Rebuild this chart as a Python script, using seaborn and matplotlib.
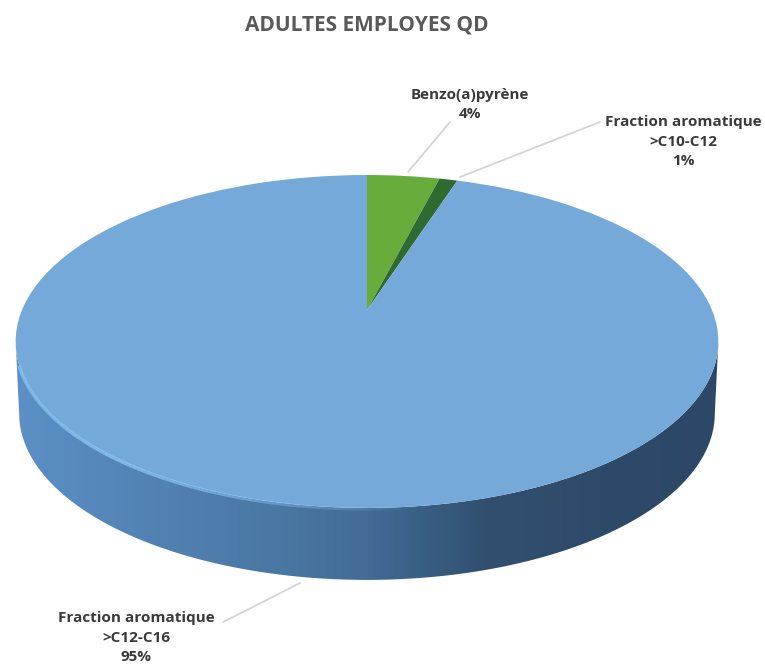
import numpy as np
import matplotlib
matplotlib.use("Agg")
import matplotlib.pyplot as plt
from matplotlib.collections import LineCollection
from matplotlib.patches import Polygon
from matplotlib.transforms import Transform
import seaborn as sns

sns.set_theme(style="white")
plt.rcParams["font.family"] = ["Open Sans", "DejaVu Sans"]

TITLE = "ADULTES EMPLOYES QD"
categories = ["Benzo(a)pyrène", "Fraction aromatique\n>C10-C12", "Fraction aromatique\n>C12-C16"]
shares = [4, 1, 95]
slice_colors = sns.color_palette(["#68ad3c", "#2f6b30", "#74a9da"])
wall_stops = ["#5c90c6", "#5384b6", "#4c7aa7", "#426c96", "#31506f", "#2e4a69", "#2c4866"]

# Tilted-disc geometry, in figure pixels
APEX_X, APEX_Y = 367.0, 310.0
WIDTH_SCALE, HEIGHT_SCALE, TILT = 345.0, 160.5, 0.189
WALL_DEPTH = 72.0


class DiscProjection(Transform):
    """Perspective view of the unit disc, the near edge at the bottom."""
    input_dims = output_dims = 2
    is_separable = False
    has_inverse = False

    def transform_non_affine(self, values):
        values = np.asarray(values, dtype=float)
        d = 1 + TILT * values[:, 1]
        return np.column_stack([APEX_X + WIDTH_SCALE * values[:, 0] / d,
                                APEX_Y - HEIGHT_SCALE * values[:, 1] / d])


projection = DiscProjection()

fig = plt.figure(figsize=(7.65, 6.67), dpi=100)
ax = fig.add_axes([0, 0, 1, 1])

wedges, _ = ax.pie(shares, colors=slice_colors, startangle=90, counterclock=False,
                   radius=1, wedgeprops={"linewidth": 0})
for wedge in wedges:
    wedge.set_transform(projection + ax.transData)
    wedge.set_zorder(3)

# Front rim of the disc and the side wall hanging below it
theta = np.linspace(0, 2 * np.pi, 1441)
circle = np.column_stack([np.cos(theta), np.sin(theta)])
front = circle[circle[:, 1] <= -TILT]
front = front[np.argsort(front[:, 0])]
rim = projection.transform_non_affine(front)
lower = rim.copy()
lower[:, 0] = APEX_X - 1.0 + (lower[:, 0] - APEX_X + 1.0) * 0.99
lower[:, 1] += WALL_DEPTH
wall_outline = np.vstack([rim, lower[::-1]])

wall_cmap = sns.blend_palette(wall_stops, as_cmap=True)
wall = ax.imshow(np.linspace(0, 1, 512)[None, :], cmap=wall_cmap, aspect="auto",
                 extent=(15, 719, 600, 300), zorder=2)
wall.set_clip_path(Polygon(wall_outline, closed=True, transform=ax.transData))

# Bevel highlight along the lit part of the rim
bevel = np.column_stack([rim[:, 0], rim[:, 1] + 1.0])
bevel = bevel[(bevel[:, 0] > 19) & (bevel[:, 0] < 420)]
segments = np.stack([bevel[:-1], bevel[1:]], axis=1)
fade = np.clip((420 - bevel[:-1, 0]) / 300, 0, 1) * 0.95
colors = np.tile(matplotlib.colors.to_rgba("#86c0f2"), (len(segments), 1))
colors[:, 3] = fade
ax.add_collection(LineCollection(segments, colors=colors, linewidths=2.5, zorder=4))

# Leader lines between the labels and the slices
leaders = [([408, 450], [172, 122]),
           ([460, 600], [177, 122]),
           ([300, 247, 223], [583, 610, 622])]
for xs, ys in leaders:
    ax.plot(xs, ys, color="#d4d4d4", lw=1.3, zorder=1)

# Slice labels
label_positions = [(470, 104.5), (683, 141.5), (136, 637.5)]
for name, share, (x, y) in zip(categories, shares, label_positions):
    ax.text(x, y, f"{name}\n{share}%", ha="center", va="center", fontsize=11,
            fontweight="bold", color="#3a3a3a", linespacing=1.49, zorder=5)

ax.text(367, 25, TITLE, ha="center", va="center", fontsize=15,
        fontweight="bold", color="#595959", zorder=5)

ax.set_xlim(0, 765)
ax.set_ylim(667, 0)
ax.set_aspect("auto")
ax.axis("off")

fig.savefig("out.png", dpi=100, facecolor="white")
